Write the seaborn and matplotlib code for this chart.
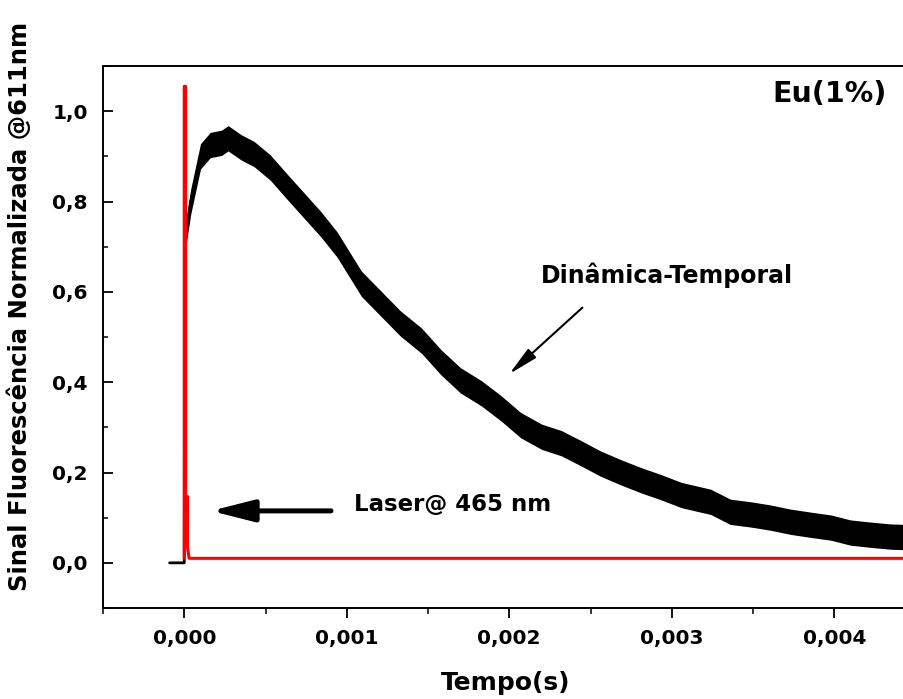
import matplotlib
matplotlib.use("Agg")
import matplotlib.pyplot as plt
import matplotlib.ticker as mticker
import numpy as np
import pandas as pd
import seaborn as sns

# fluorescence decay of Eu(1%) at 611 nm
decay_t = [-0.00009, 0.0, 0.000002, 0.00001, 0.00004, 0.00007, 0.00010, 0.00016,
           0.00023, 0.00027, 0.00035, 0.00043, 0.00053, 0.00064, 0.00074, 0.00084,
           0.00094, 0.00109, 0.00121, 0.00133, 0.00146, 0.00158, 0.00170, 0.00183,
           0.00195, 0.00207, 0.00220, 0.00232, 0.00244, 0.00256, 0.00269, 0.00281,
           0.00293, 0.00306, 0.00318, 0.00324, 0.00336, 0.00349, 0.00361, 0.00373,
           0.00386, 0.00398, 0.00410, 0.00423, 0.00435, 0.00444]
decay_y = [0.0, 0.0, 0.63, 0.73, 0.80, 0.85, 0.90, 0.925,
           0.93, 0.94, 0.92, 0.905, 0.875, 0.83, 0.79, 0.75,
           0.705, 0.618, 0.574, 0.53, 0.492, 0.444, 0.404, 0.375,
           0.342, 0.305, 0.279, 0.265, 0.243, 0.22, 0.20, 0.183,
           0.168, 0.15, 0.14, 0.135, 0.113, 0.107, 0.10, 0.091,
           0.084, 0.078, 0.067, 0.062, 0.058, 0.057]

# laser pulse @ 465 nm
laser_t = [0.0, 0.0, 0.000008, 0.000008, 0.000020, 0.000020, 0.000030, 0.0045]
laser_y = [0.01, 1.055, 1.055, 0.147, 0.147, 0.035, 0.01, 0.01]

x_ticks = [0.0, 0.001, 0.002, 0.003, 0.004]
y_ticks = [0.0, 0.2, 0.4, 0.6, 0.8, 1.0]

NOISE = 0.028  # half height of the noisy trace band

sns.set_theme(style="ticks")
plt.rcParams['font.family'] = ['DejaVu Sans']
plt.rcParams['font.weight'] = 'bold'
plt.rcParams['text.color'] = 'black'
plt.rcParams['axes.labelcolor'] = 'black'

fig = plt.figure(figsize=(9.04, 6.99), dpi=100)
ax = fig.add_axes([103 / 904, 91 / 699, 812.5 / 904, 542 / 699])

decay = pd.DataFrame({'t': decay_t, 'y': decay_y})
laser = pd.DataFrame({'t': laser_t, 'y': laser_y})

band = decay[decay['t'] > 0]
ax.fill_between(band['t'], band['y'] - NOISE, band['y'] + NOISE,
                color='black', lw=0)
sns.lineplot(data=decay, x='t', y='y', ax=ax, color='black', lw=2,
             estimator=None, sort=False)
sns.lineplot(data=laser, x='t', y='y', ax=ax, color='#ff0000', lw=2.2,
             estimator=None, sort=False)

ax.set_xlim(-0.0005, 0.0045)
ax.set_ylim(-0.1, 1.1)
ax.set_xticks(x_ticks)
ax.set_yticks(y_ticks)
ax.xaxis.set_minor_locator(mticker.MultipleLocator(0.0005))
ax.yaxis.set_minor_locator(mticker.MultipleLocator(0.1))
ax.xaxis.set_major_formatter(mticker.FuncFormatter(lambda v, p: f"{v:.3f}".replace('.', ',')))
ax.yaxis.set_major_formatter(mticker.FuncFormatter(lambda v, p: f"{v:.1f}".replace('.', ',')))

ax.tick_params(axis='x', which='major', direction='out', length=7, width=1.3,
               labelsize=14.5, pad=8, colors='black')
ax.tick_params(axis='x', which='minor', direction='out', length=4.5, width=1.3)
ax.tick_params(axis='y', which='major', direction='in', length=7, width=1.3,
               labelsize=14.5, pad=11, colors='black')
ax.tick_params(axis='y', which='minor', direction='in', length=3.6, width=1.3)
for lab in ax.get_xticklabels() + ax.get_yticklabels():
    lab.set_fontweight('bold')

for s in ['left', 'bottom', 'top', 'right']:
    ax.spines[s].set_visible(True)
    ax.spines[s].set_linewidth(1.4)
    ax.spines[s].set_color('black')

ax.set_xlabel('Tempo(s)', fontsize=18, fontweight='bold')
ax.xaxis.set_label_coords(0.495, -0.138)
ax.xaxis.label.set_va('center')
ax.set_ylabel('Sinal Fluorescência Normalizada @611nm', fontsize=17.5, fontweight='bold')
ax.yaxis.set_label_coords(-0.102, 0.557)
ax.yaxis.label.set_va('center')

ax.text(0.00397, 1.037, 'Eu(1%)', fontsize=20.5, fontweight='bold',
        ha='center', va='center')
ax.text(0.00297, 0.636, 'Dinâmica-Temporal', fontsize=17, fontweight='bold',
        ha='center', va='center')
ax.annotate('', xy=(0.002, 0.418), xytext=(0.00245, 0.565),
            arrowprops=dict(arrowstyle='-|>,head_length=1.8,head_width=0.36',
                            lw=1.5, color='black', mutation_scale=10,
                            shrinkA=0, shrinkB=0))
ax.text(0.00165, 0.13, 'Laser@ 465 nm', fontsize=16.5, fontweight='bold',
        ha='center', va='center')
ax.annotate('', xy=(0.000164, 0.115), xytext=(0.000903, 0.115),
            arrowprops=dict(arrowstyle='-|>,head_length=1.3,head_width=0.33',
                            lw=3.6, color='black', mutation_scale=20,
                            shrinkA=0, shrinkB=0))

fig.savefig('out.png', dpi=100)
